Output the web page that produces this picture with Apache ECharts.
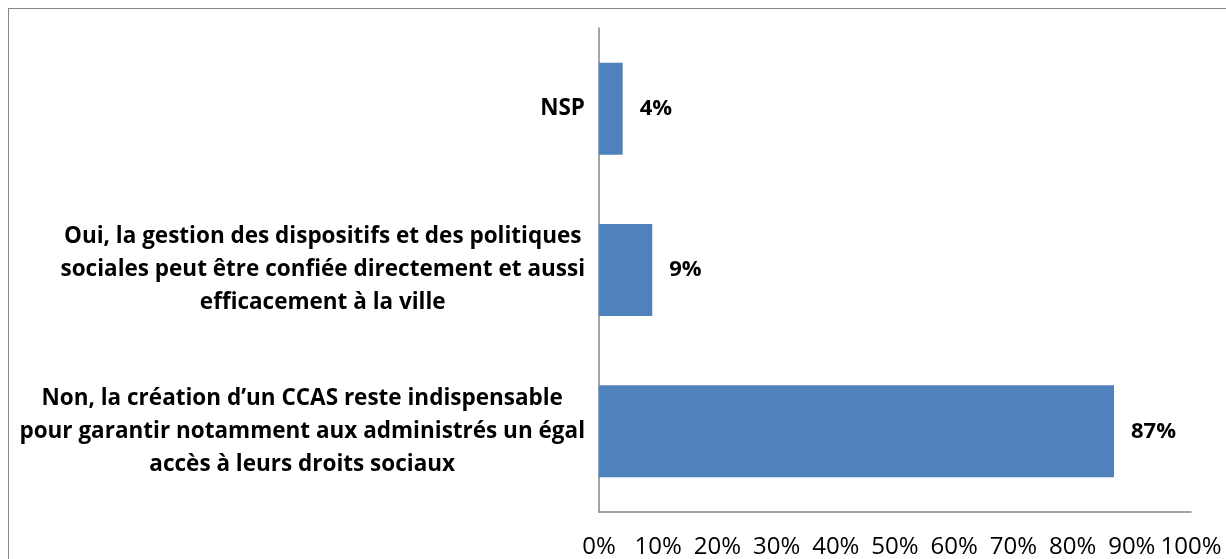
<!DOCTYPE html>
<html>
<head>
<meta charset="utf-8">
<script src="https://cdn.jsdelivr.net/npm/echarts@6/dist/echarts.min.js"></script>
<style>
  html, body { margin: 0; padding: 0; background: #fff; }
  #frame { position: absolute; left: 8px; top: 8px; width: 1240px; height: 600px; border: 1px solid #868686; box-sizing: border-box; }
  #chart { position: absolute; left: 0; top: 0; width: 1226px; height: 559px; }
</style>
</head>
<body>
<div id="frame"></div>
<div id="chart"></div>
<script>
// ── Données ───────────────────────────────────────────────────────────────
const categories = [
  'NSP',
  'Oui, la gestion des dispositifs et des politiques\nsociales peut être confiée directement et aussi\nefficacement à la ville',
  'Non, la création d\u2019un CCAS reste indispensable\npour garantir notamment aux administrés un égal\naccès à leurs droits sociaux',
];
const values = [0.04, 0.09, 0.87];
const tickValues = [0, 0.1, 0.2, 0.3, 0.4, 0.5, 0.6, 0.7, 0.8, 0.9, 1];

const FONT = '"Open Sans", Lato, sans-serif';
const BAR_COLOR = '#4F81BD';
const AXIS_COLOR = '#868686';

const chart = echarts.init(document.getElementById('chart'), null, { renderer: 'canvas' });

chart.setOption({
  animation: false,
  textStyle: { fontFamily: FONT },
  grid: { left: 599, right: 35, top: 28, bottom: 47, containLabel: false },
  xAxis: {
    type: 'value',
    min: tickValues[0],
    max: tickValues[tickValues.length - 1],
    interval: tickValues[1] - tickValues[0],
    axisLine: { show: true, lineStyle: { color: AXIS_COLOR, width: 1.5 } },
    axisTick: { show: false },
    splitLine: { show: false },
    axisLabel: {
      margin: 23,
      fontSize: 24,
      color: '#000',
      fontFamily: FONT,
      formatter: (v) => Math.round(v * 100) + '%',
    },
  },
  yAxis: {
    type: 'category',
    inverse: true,
    data: categories,
    axisLine: { show: true, lineStyle: { color: AXIS_COLOR, width: 1.5 } },
    axisTick: { show: false },
    axisLabel: {
      margin: 14,
      interval: 0,
      formatter: (v) => v.split('\n').map(l => '{c|' + l + '}').join('\n'),
      rich: {
        c: { align: 'center', fontSize: 22.5, fontWeight: 'bold', lineHeight: 33, color: '#000', fontFamily: FONT },
      },
    },
  },
  series: [{
    type: 'bar',
    data: values,
    barWidth: 92,
    itemStyle: { color: BAR_COLOR },
    label: {
      show: true,
      position: 'right',
      distance: 17,
      fontSize: 22,
      fontWeight: 'bold',
      color: '#000',
      fontFamily: FONT,
      formatter: (p) => Math.round(p.value * 100) + '%',
    },
  }],
});
</script>
</body>
</html>
